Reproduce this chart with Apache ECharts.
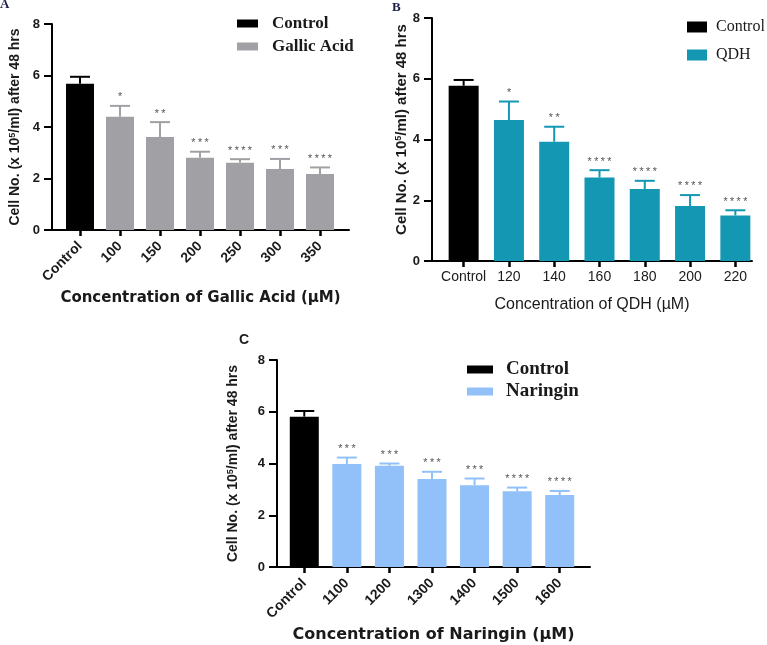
<!DOCTYPE html>
<html>
<head>
<meta charset="utf-8">
<script src="https://cdn.jsdelivr.net/npm/echarts@6/dist/echarts.min.js"></script>
<style>html,body{margin:0;padding:0;background:#fff;}#c{width:767px;height:645px;}</style>
</head>
<body>
<div id="c"></div>
<script>
// ---- Data ----
const catsA = ['Control', '100', '150', '200', '250', '300', '350'];
const meanA = [5.68, 4.40, 3.61, 2.81, 2.61, 2.37, 2.17];
const errA  = [0.27, 0.42, 0.58, 0.23, 0.14, 0.39, 0.26];
const sigA  = ['', '*', '**', '***', '****', '***', '****'];

const catsB = ['Control', '120', '140', '160', '180', '200', '220'];
const meanB = [5.77, 4.64, 3.93, 2.75, 2.37, 1.81, 1.50];
const errB  = [0.19, 0.61, 0.49, 0.24, 0.27, 0.36, 0.17];
const sigB  = ['', '*', '**', '****', '****', '****', '****'];

const catsC = ['Control', '1100', '1200', '1300', '1400', '1500', '1600'];
const meanC = [5.81, 3.98, 3.91, 3.40, 3.16, 2.93, 2.78];
const errC  = [0.22, 0.25, 0.09, 0.28, 0.26, 0.14, 0.16];
const sigC  = ['', '***', '***', '***', '***', '****', '****'];

const yTicks = [0, 2, 4, 6, 8];

// ---- Build ----
const SANS = "'Liberation Sans', Arial, sans-serif";
const WIDE = "'DejaVu Sans', Verdana, sans-serif";
const SERIF = "'Liberation Serif', 'Times New Roman', serif";

const panels = [
  { cats: catsA, mean: meanA, err: errA, sig: sigA, treat: 'Gallic Acid', color: '#a1a1a5',
    frame: {left: 52, top: 24, width: 297, height: 206},
    data: {left: 60, top: 24, width: 280, height: 206},
    barWidth: 28, rotate: 45, labelSize: 14, labelWeight: 'bold', labelMargin: 14,
    xName: 'Concentration of Gallic Acid (\u00b5M)', xNameGap: 61, xNameFont: WIDE, xNameSize: 15, xNameWeight: 'bold',
    yNameGap: 29, yNameSize: 14, yNamePad: [0, 0, 0, 0],
    legend: {left: 237, top: 15, itemWidth: 21, itemHeight: 8, itemGap: 6, font: 17, weight: 'bold', pad: 9} },
  { cats: catsB, mean: meanB, err: errB, sig: sigB, treat: 'QDH', color: '#1397b2',
    frame: {left: 432, top: 18, width: 320, height: 243},
    data: {left: 441, top: 18, width: 317, height: 243},
    barWidth: 30, rotate: 0, labelSize: 14, labelWeight: 'normal', labelMargin: 9,
    xName: 'Concentration of QDH (\u00b5M)', xNameGap: 36, xNameFont: SANS, xNameSize: 16, xNameWeight: 'normal',
    yNameGap: 19, yNameSize: 15, yNamePad: [0, 0, 0, 20],
    legend: {left: 687, top: 19, itemWidth: 20, itemHeight: 11, itemGap: 12, font: 16, weight: 'normal', pad: 4} },
  { cats: catsC, mean: meanC, err: errC, sig: sigC, treat: 'Naringin', color: '#92c0f8',
    frame: {left: 277, top: 360, width: 313, height: 207},
    data: {left: 283, top: 360, width: 298, height: 207},
    barWidth: 29, rotate: 45, labelSize: 14, labelWeight: 'bold', labelMargin: 14,
    xName: 'Concentration of Naringin (\u00b5M)', xNameGap: 60, xNameFont: WIDE, xNameSize: 16, xNameWeight: 'bold',
    yNameGap: 36, yNameSize: 14, yNamePad: [0, 0, 0, 0],
    legend: {left: 467, top: 360, itemWidth: 26, itemHeight: 8, itemGap: 3, font: 19, weight: 'bold', pad: 8} }
];

const grid = [], xAxis = [], yAxis = [], series = [], legend = [];

panels.forEach((p, k) => {
  const fi = grid.length;
  grid.push(Object.assign({containLabel: false}, p.frame));
  const di = grid.length;
  grid.push(Object.assign({containLabel: false}, p.data));

  // frame axes (axis lines, y labels, names)
  xAxis.push({
    gridIndex: fi, type: 'value', min: 0, max: 1,
    axisLine: {show: true, onZero: false, lineStyle: {color: '#000', width: 2}},
    axisTick: {show: false}, axisLabel: {show: false}, splitLine: {show: false},
    name: p.xName, nameLocation: 'middle', nameGap: p.xNameGap,
    nameTextStyle: {fontFamily: p.xNameFont, fontWeight: p.xNameWeight, fontSize: p.xNameSize, color: '#1a1a1a'}
  });
  yAxis.push({
    gridIndex: fi, type: 'value', min: 0, max: 8, interval: 2,
    axisLine: {show: true, lineStyle: {color: '#000', width: 2}},
    axisTick: {show: true, length: 8, lineStyle: {color: '#000', width: 2}},
    axisLabel: {fontFamily: SANS, fontWeight: 'bold', fontSize: 13, color: '#1a1a1a', margin: 12,
      formatter: v => yTicks.indexOf(v) >= 0 ? String(v) : ''},
    splitLine: {show: false},
    name: 'Cell No. (x 10{s|5}/ml) after 48 hrs', nameLocation: 'middle', nameGap: p.yNameGap,
    nameTextStyle: {fontFamily: SANS, fontWeight: 'bold', fontSize: p.yNameSize, color: '#1a1a1a', padding: p.yNamePad,
      rich: {s: {fontFamily: SANS, fontWeight: 'bold', fontSize: 9, verticalAlign: 'top', color: '#1a1a1a', padding: [0, 0, 6, 0]}}}
  });

  // data axes
  xAxis.push({
    gridIndex: di, type: 'category', data: p.cats,
    axisLine: {show: false},
    axisTick: {show: true, alignWithLabel: true, length: 6, lineStyle: {color: '#000', width: 2.5}},
    axisLabel: {fontFamily: SANS, fontWeight: p.labelWeight, fontSize: p.labelSize, color: '#1a1a1a',
      rotate: p.rotate, margin: p.labelMargin, interval: 0}
  });
  yAxis.push({gridIndex: di, type: 'value', min: 0, max: 8, show: false});

  const xi = di, yi = di;
  const ctrlData = p.mean.map((v, i) => i === 0 ? v : null);
  const trData = p.mean.map((v, i) => i === 0 ? null : v);
  series.push({
    name: 'Control', type: 'bar', xAxisIndex: xi, yAxisIndex: yi, data: ctrlData,
    barWidth: p.barWidth, barGap: '-100%', itemStyle: {color: '#000'}, silent: true
  });
  series.push({
    name: p.treat, type: 'bar', xAxisIndex: xi, yAxisIndex: yi, data: trData,
    barWidth: p.barWidth, barGap: '-100%', itemStyle: {color: p.color}, silent: true
  });
  const color = p.color, sig = p.sig;
  series.push({
    name: 'err' + k, type: 'custom', xAxisIndex: xi, yAxisIndex: yi, z: 5, silent: true,
    data: p.mean.map((v, i) => [i, v, p.err[i]]),
    encode: {x: 0, y: 1},
    renderItem: function (params, api) {
      const i = params.dataIndex;
      const x = api.value(0), v = api.value(1), e = api.value(2);
      const base = api.coord([x, v]);
      const top = api.coord([x, v + e]);
      const c = i === 0 ? '#000' : color;
      const ch = [
        {type: 'line', shape: {x1: base[0], y1: base[1], x2: top[0], y2: top[1]}, style: {stroke: c, lineWidth: 2}},
        {type: 'line', shape: {x1: top[0] - 10, y1: top[1], x2: top[0] + 10, y2: top[1]}, style: {stroke: c, lineWidth: 2}}
      ];
      if (sig[i]) {
        ch.push({type: 'text', x: top[0], y: top[1] - 3,
          style: {text: sig[i], fill: '#555', font: "11px 'Liberation Mono', monospace", textAlign: 'center', textVerticalAlign: 'bottom'}});
      }
      return {type: 'group', children: ch};
    }
  });

  legend.push({
    orient: 'vertical', left: p.legend.left, top: p.legend.top,
    data: ['Control', p.treat], icon: 'rect',
    itemWidth: p.legend.itemWidth, itemHeight: p.legend.itemHeight, itemGap: p.legend.itemGap,
    selectedMode: false, padding: 0,
    textStyle: {fontFamily: SERIF, fontWeight: p.legend.weight, fontSize: p.legend.font, color: '#1a1a1a',
      padding: [0, 0, 0, p.legend.pad]}
  });
});

const option = {
  animation: false,
  backgroundColor: '#fff',
  title: [
    {text: 'A', left: 0, top: -2, padding: 0, textStyle: {fontFamily: SERIF, fontWeight: 'bold', fontSize: 13, color: '#1b1f4a'}},
    {text: 'B', left: 392, top: 1, padding: 0, textStyle: {fontFamily: SERIF, fontWeight: 'bold', fontSize: 13, color: '#1b1f4a'}},
    {text: 'C', left: 239, top: 333, padding: 0, textStyle: {fontFamily: SANS, fontWeight: 'bold', fontSize: 14, color: '#1a1a1a'}}
  ],
  legend, grid, xAxis, yAxis, series
};

echarts.init(document.getElementById('c'), null, {renderer: 'canvas'}).setOption(option);
</script>
</body>
</html>
